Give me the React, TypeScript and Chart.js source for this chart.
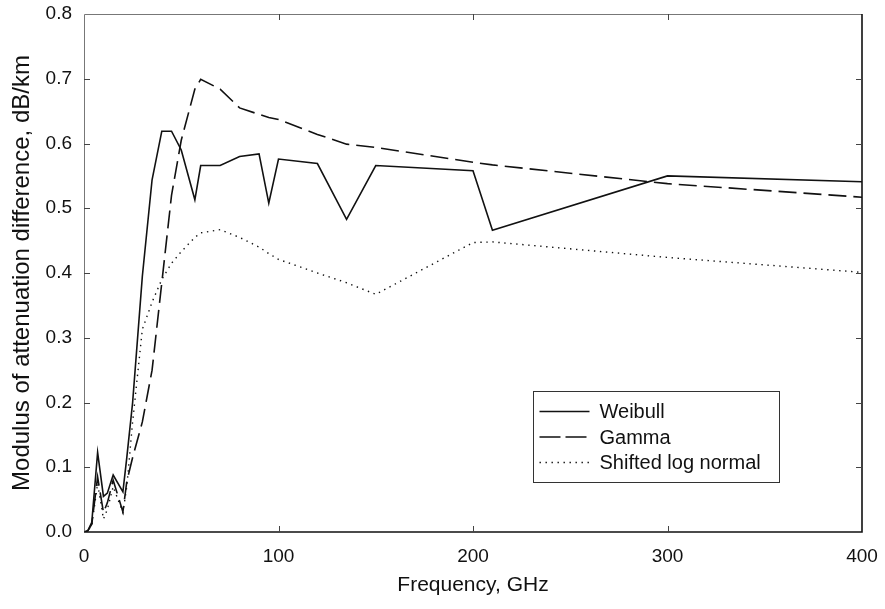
import React, { useEffect, useRef } from "react";
import { Chart, registerables } from "chart.js";

Chart.register(...registerables);

const frequencies = [0, 2, 4, 7, 10, 12, 15, 20, 22, 25, 30, 35, 40, 45, 50, 57, 60, 70, 80, 90, 95, 100, 120, 135, 150, 200, 210, 300, 400];
const weibull = [0, 0.002, 0.015, 0.123, 0.055, 0.06, 0.088, 0.062, 0.115, 0.2, 0.395, 0.544, 0.619, 0.619, 0.59, 0.513, 0.566, 0.566, 0.58, 0.584, 0.508, 0.576, 0.569, 0.483, 0.566, 0.558, 0.466, 0.55, 0.541];
const gamma = [0, 0.002, 0.012, 0.085, 0.03, 0.045, 0.08, 0.031, 0.078, 0.115, 0.17, 0.25, 0.385, 0.52, 0.605, 0.684, 0.699, 0.684, 0.655, 0.645, 0.64, 0.637, 0.614, 0.599, 0.594, 0.571, 0.567, 0.538, 0.517];
const shiftedLogNormal = [0, 0.002, 0.01, 0.075, 0.02, 0.035, 0.07, 0.03, 0.07, 0.17, 0.313, 0.355, 0.39, 0.415, 0.433, 0.455, 0.462, 0.467, 0.455, 0.44, 0.43, 0.421, 0.4, 0.385, 0.367, 0.447, 0.448, 0.424, 0.401];

const seriesLabels = ["Weibull", "Gamma", "Shifted log normal"];
const xTickValues = [0, 100, 200, 300, 400];
const yTickValues = [0, 0.1, 0.2, 0.3, 0.4, 0.5, 0.6, 0.7, 0.8];

const FONT = "'Liberation Sans', Arial, Helvetica, sans-serif";
const INK = "#111";

const framePlugin = {
  id: "frameTicks",
  afterDraw(chart: any) {
    const ctx = chart.ctx;
    const { left, right, top, bottom } = chart.chartArea;
    const xs = chart.scales.x;
    const ys = chart.scales.y;
    const tl = 6;
    ctx.save();
    ctx.setLineDash([]);
    ctx.strokeStyle = "#777";
    ctx.lineWidth = 1;
    ctx.beginPath();
    ctx.moveTo(left + 0.5, bottom);
    ctx.lineTo(left + 0.5, top + 0.5);
    ctx.lineTo(right, top + 0.5);
    ctx.stroke();
    ctx.strokeStyle = INK;
    ctx.lineWidth = 1.6;
    ctx.beginPath();
    ctx.moveTo(left, bottom);
    ctx.lineTo(right, bottom);
    ctx.lineTo(right, top);
    ctx.stroke();
    ctx.lineWidth = 1;
    ctx.strokeStyle = "#444";
    ctx.beginPath();
    xTickValues.slice(1, -1).forEach((v) => {
      const px = Math.round(xs.getPixelForValue(v)) + 0.5;
      ctx.moveTo(px, bottom);
      ctx.lineTo(px, bottom - tl);
      ctx.moveTo(px, top);
      ctx.lineTo(px, top + tl);
    });
    yTickValues.slice(1, -1).forEach((v) => {
      const py = Math.round(ys.getPixelForValue(v)) + 0.5;
      ctx.moveTo(left, py);
      ctx.lineTo(left + tl, py);
      ctx.moveTo(right, py);
      ctx.lineTo(right - tl, py);
    });
    ctx.stroke();
    ctx.restore();
  },
};

const legendPlugin = {
  id: "boxLegend",
  afterDraw(chart: any) {
    const ctx = chart.ctx;
    const bx = 533.5;
    const by = 391.5;
    const bw = 246;
    const bh = 91;
    ctx.save();
    ctx.fillStyle = "#fff";
    ctx.fillRect(bx, by, bw, bh);
    ctx.strokeStyle = "#333";
    ctx.lineWidth = 1;
    ctx.setLineDash([]);
    ctx.strokeRect(bx, by, bw, bh);
    chart.data.datasets.forEach((ds: any, i: number) => {
      const y = by + 20 + i * 25.5;
      ctx.strokeStyle = ds.borderColor;
      ctx.lineWidth = ds.borderWidth;
      ctx.setLineDash(i === 1 ? [21, 5] : ds.borderDash || []);
      ctx.beginPath();
      ctx.moveTo(bx + 6, y);
      ctx.lineTo(bx + 56, y);
      ctx.stroke();
      ctx.setLineDash([]);
      ctx.fillStyle = INK;
      ctx.font = `20px ${FONT}`;
      ctx.textBaseline = "middle";
      ctx.textAlign = "left";
      ctx.fillText(ds.label, bx + 66, y + 1);
    });
    ctx.restore();
  },
};

export default function App() {
  const canvasRef = useRef<HTMLCanvasElement | null>(null);

  useEffect(() => {
    document.body.style.margin = "0";
    const canvas = canvasRef.current;
    if (!canvas) return;
    const toPoints = (vals: number[]) => frequencies.map((f, i) => ({ x: f, y: vals[i] }));
    const chart = new Chart(canvas, {
      type: "line",
      data: {
        datasets: [
          { label: seriesLabels[0], data: toPoints(weibull), borderColor: INK, borderWidth: 1.6, pointRadius: 0, tension: 0, fill: false },
          { label: seriesLabels[1], data: toPoints(gamma), borderColor: INK, borderWidth: 1.6, borderDash: [18, 7], pointRadius: 0, tension: 0, fill: false },
          { label: seriesLabels[2], data: toPoints(shiftedLogNormal), borderColor: INK, borderWidth: 1.4, borderDash: [1.4, 4.6], pointRadius: 0, tension: 0, fill: false },
        ],
      },
      options: {
        responsive: false,
        animation: false,
        layout: { padding: { top: 14, right: 23, left: 0, bottom: 0 } },
        plugins: { legend: { display: false }, tooltip: { enabled: false } },
        scales: {
          x: {
            type: "linear",
            min: 0,
            max: 400,
            afterFit: (s: any) => { s.height = 77; s.paddingLeft = 0; s.paddingRight = 0; },
            afterBuildTicks: (s: any) => { s.ticks = xTickValues.map((v) => ({ value: v })); },
            grid: { display: false, drawTicks: false },
            border: { display: false },
            ticks: { color: INK, font: { family: FONT, size: 19 }, padding: 13, maxRotation: 0 },
            title: { display: true, text: "Frequency, GHz", color: INK, font: { family: FONT, size: 21 }, padding: { top: 0, bottom: 11 } },
          },
          y: {
            type: "linear",
            min: 0,
            max: 0.8,
            afterFit: (s: any) => { s.width = 84; s.paddingTop = 0; s.paddingBottom = 0; },
            afterBuildTicks: (s: any) => { s.ticks = yTickValues.map((v) => ({ value: v })); },
            grid: { display: false, drawTicks: false },
            border: { display: false },
            ticks: { color: INK, font: { family: FONT, size: 19 }, padding: 12, callback: (v: any) => Number(v).toFixed(1) },
            title: { display: true, text: "Modulus of attenuation difference, dB/km", color: INK, font: { family: FONT, size: 24 }, padding: { top: 8, bottom: 0 } },
          },
        },
      },
      plugins: [framePlugin, legendPlugin],
    });
    return () => chart.destroy();
  }, []);

  return (
    <div style={{ width: 885, height: 609, background: "#fff" }}>
      <canvas ref={canvasRef} width={885} height={609} style={{ display: "block" }} />
    </div>
  );
}
